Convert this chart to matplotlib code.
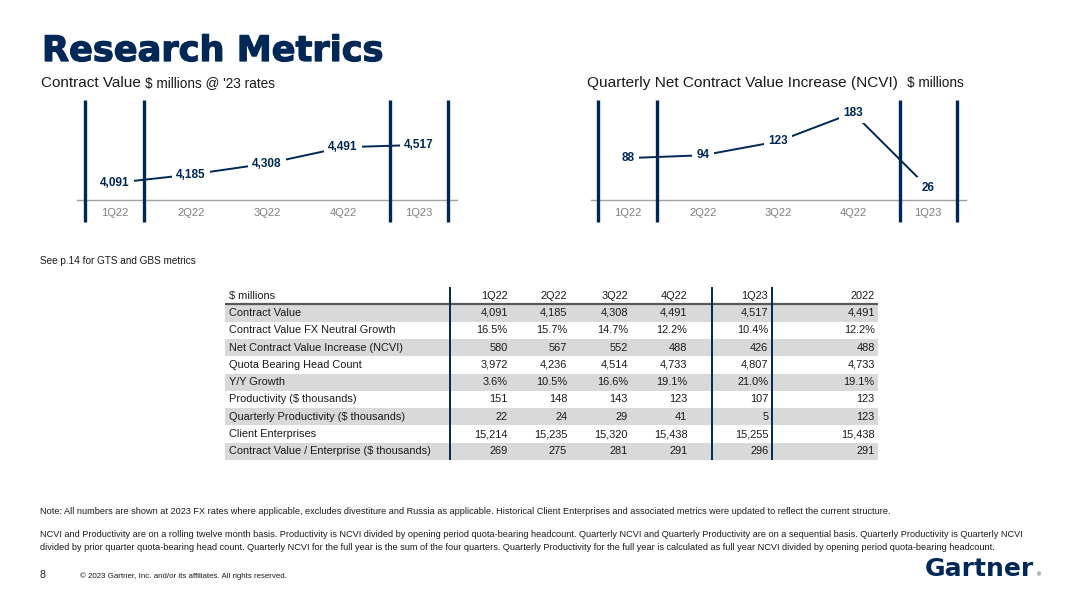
import matplotlib
matplotlib.use("Agg")
import matplotlib.pyplot as plt
import matplotlib.patheffects as pe

# ---------------- data ----------------
quarters = ["1Q22", "2Q22", "3Q22", "4Q22", "1Q23"]
contract_value = [4091, 4185, 4308, 4491, 4517]
ncvi_quarterly = [88, 94, 123, 183, 26]

table_cols = ["1Q22", "2Q22", "3Q22", "4Q22", "1Q23", "2022"]
table_rows = [
    "Contract Value",
    "Contract Value FX Neutral Growth",
    "Net Contract Value Increase (NCVI)",
    "Quota Bearing Head Count",
    "Y/Y Growth",
    "Productivity ($ thousands)",
    "Quarterly Productivity ($ thousands)",
    "Client Enterprises",
    "Contract Value / Enterprise ($ thousands)",
]
table_values = [
    ["4,091", "4,185", "4,308", "4,491", "4,517", "4,491"],
    ["16.5%", "15.7%", "14.7%", "12.2%", "10.4%", "12.2%"],
    ["580", "567", "552", "488", "426", "488"],
    ["3,972", "4,236", "4,514", "4,733", "4,807", "4,733"],
    ["3.6%", "10.5%", "16.6%", "19.1%", "21.0%", "19.1%"],
    ["151", "148", "143", "123", "107", "123"],
    ["22", "24", "29", "41", "5", "123"],
    ["15,214", "15,235", "15,320", "15,438", "15,255", "15,438"],
    ["269", "275", "281", "291", "296", "291"],
]

note1 = ("Note: All numbers are shown at 2023 FX rates where applicable, excludes divestiture and Russia as applicable. "
         "Historical Client Enterprises and associated metrics were updated to reflect the current structure.")
note2a = ("NCVI and Productivity are on a rolling twelve month basis. Productivity is NCVI divided by opening period "
          "quota-bearing headcount. Quarterly NCVI and Quarterly Productivity are on a sequential basis. Quarterly Productivity is Quarterly NCVI")
note2b = ("divided by prior quarter quota-bearing head count. Quarterly NCVI for the full year is the sum of the four quarters. "
          "Quarterly Productivity for the full year is calculated as full year NCVI divided by opening period quota-bearing headcount.")

# ---------------- style ----------------
NAVY = "#002856"
GRAY_TXT = "#7f7f7f"
DARK = "#1a1a1a"
plt.rcParams["font.family"] = ["Liberation Sans", "DejaVu Sans"]

W, H = 1080, 607
fig = plt.figure(figsize=(W / 100, H / 100), dpi=100)
fig.patch.set_facecolor("white")


def fx(x):
    return x / W


def fy(y):
    return 1 - y / H


# Title
fig.text(fx(42), fy(61), "Research Metrics", family="DejaVu Sans", weight="bold",
         fontsize=25.3, color=NAVY, va="baseline", ha="left",
         path_effects=[pe.withStroke(linewidth=0.9, foreground=NAVY)])

# Chart titles
fig.text(fx(41), fy(87), "Contract Value", fontsize=11, color=DARK, va="baseline")
fig.text(fx(145), fy(87), "$ millions @ '23 rates", fontsize=9.8, color=DARK, va="baseline")
fig.text(fx(587), fy(87), "Quarterly Net Contract Value Increase (NCVI)", fontsize=11.1, color=DARK, va="baseline")
fig.text(fx(907), fy(87), "$ millions", fontsize=9.8, color=DARK, va="baseline")

vline_pos = [-0.4, 0.38, 3.62, 4.38]


def line_chart(rect, values, ylim):
    ax = fig.add_axes(rect)
    ax.set_xlim(-0.5, 4.5)
    ax.set_ylim(*ylim)
    ax.axis("off")
    ax.axhline(ylim[0], color="#a0a0a0", lw=1.0, zorder=1, clip_on=False)
    for xv in vline_pos:
        ax.plot([xv, xv], [-0.22, 1.0], transform=ax.get_xaxis_transform(),
                clip_on=False, color=NAVY, lw=2.4, solid_capstyle="butt", zorder=2)
    xs = list(range(len(values)))
    ax.plot(xs, values, color=NAVY, lw=1.4, zorder=3)
    for x, v in zip(xs, values):
        ax.text(x, v, f"{v:,}", ha="center", va="center", fontsize=8.5, weight="bold",
                color=NAVY, zorder=4,
                bbox=dict(boxstyle="square,pad=0.35", fc="white", ec="none"))
    for x, q in zip(xs, quarters):
        ax.text(x, -0.13, q, transform=ax.get_xaxis_transform(), ha="center", va="center",
                fontsize=8, color=GRAY_TXT)
    return ax


line_chart([fx(77), fy(200), 380 / W, 100 / H], contract_value, (3900, 5020))
line_chart([fx(590.5), fy(200), 375 / W, 100 / H], ncvi_quarterly, (0, 210))

fig.text(fx(40), fy(264), "See p.14 for GTS and GBS metrics", fontsize=7.2, color=DARK, va="baseline")

# ---------------- table ----------------
tx0, tx1 = 225, 878
ty0, ty1 = 287, 460
axt = fig.add_axes([fx(tx0), fy(ty1), (tx1 - tx0) / W, (ty1 - ty0) / H])
axt.set_xlim(0, 1)
axt.set_ylim(8.5, -1.5)
axt.axis("off")

col_right = [0.433, 0.524, 0.617, 0.708, 0.832, 0.995]
table_vlines = [0.345, 0.746, 0.838]
label_x = 0.006
TFS = 7.9

for i in range(len(table_rows)):
    if i % 2 == 0:
        axt.axhspan(i - 0.5, i + 0.5, color="#d9d9d9", lw=0, zorder=0)
axt.plot([0, 1], [-0.5, -0.5], color="#595959", lw=1.6, zorder=2, solid_capstyle="butt")

axt.text(label_x, -1, "$ millions", ha="left", va="center", fontsize=TFS, color=DARK)
for c, name in enumerate(table_cols):
    axt.text(col_right[c], -1, name, ha="right", va="center", fontsize=TFS, color=DARK)
for r, name in enumerate(table_rows):
    axt.text(label_x, r, name, ha="left", va="center", fontsize=TFS, color=DARK)
    for c, val in enumerate(table_values[r]):
        axt.text(col_right[c], r, val, ha="right", va="center", fontsize=TFS, color=DARK)
for xv in table_vlines:
    axt.plot([xv, xv], [-1.5, 8.5], color=NAVY, lw=1.4, zorder=3, solid_capstyle="butt")

# ---------------- notes / footer ----------------
NFS = 6.6
fig.text(fx(40), fy(514), note1, fontsize=6.55, color=DARK, va="baseline")
fig.text(fx(40), fy(537), note2a, fontsize=NFS, color=DARK, va="baseline")
fig.text(fx(40), fy(550), note2b, fontsize=NFS, color=DARK, va="baseline")

fig.text(fx(40), fy(578), "8", fontsize=7.5, color=DARK, va="baseline")
fig.text(fx(80), fy(578), "\u00a9 2023 Gartner, Inc. and/or its affiliates. All rights reserved.",
         fontsize=5.7, color=DARK, va="baseline")
fig.text(fx(925), fy(576), "Gartner", family="DejaVu Sans", weight="bold", fontsize=18,
         color=NAVY, va="baseline")
fig.text(fx(1037), fy(576), "\u00ae", fontsize=4, color=NAVY, va="baseline")

fig.savefig("out.png", dpi=100)
